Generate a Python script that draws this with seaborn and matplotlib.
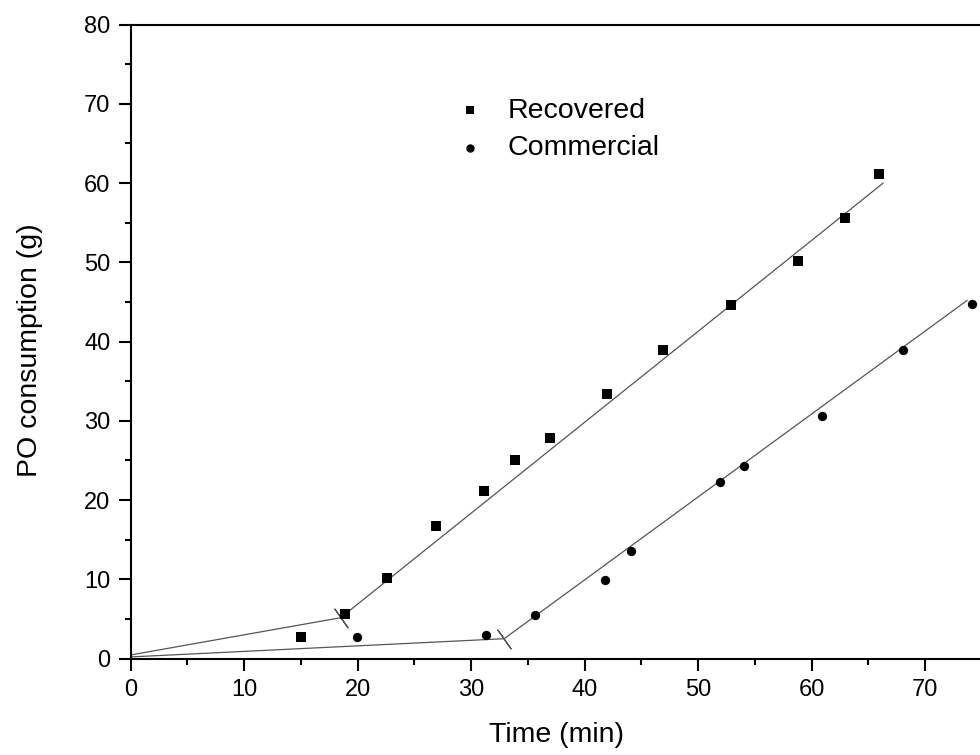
import numpy as np
import pandas as pd
import matplotlib
matplotlib.use("Agg")
import matplotlib.pyplot as plt
from matplotlib.ticker import MultipleLocator
import seaborn as sns

# data
rec_time = [15.0, 18.9, 22.6, 26.9, 31.1, 33.9, 36.9, 42.0, 46.9, 52.9, 58.8, 62.9, 65.9]
rec_po = [2.75, 5.6, 10.2, 16.7, 21.1, 25.1, 27.8, 33.4, 38.9, 44.6, 50.1, 55.6, 61.2]
com_time = [19.9, 31.3, 35.6, 41.8, 44.1, 51.9, 54.0, 60.9, 68.0, 74.1]
com_po = [2.75, 2.97, 5.5, 9.95, 13.6, 22.25, 24.3, 30.6, 38.9, 44.7]

# two-segment fit lines (start, break point, end)
rec_fit_time = [0.0, 18.5, 66.3]
rec_fit_po = [0.45, 5.15, 60.0]
com_fit_time = [0.0, 32.9, 73.7]
com_fit_po = [0.2, 2.5, 45.2]

rec = pd.DataFrame({"time": rec_time, "po": rec_po})
com = pd.DataFrame({"time": com_time, "po": com_po})
rec_fit = pd.DataFrame({"time": rec_fit_time, "po": rec_fit_po})
com_fit = pd.DataFrame({"time": com_fit_time, "po": com_fit_po})

sns.set_style("ticks")
plt.rcParams["font.family"] = ["Liberation Sans", "DejaVu Sans"]
plt.rcParams["text.color"] = "black"
plt.rcParams["axes.labelcolor"] = "black"
plt.rcParams["xtick.color"] = "black"
plt.rcParams["ytick.color"] = "black"

fig = plt.figure(figsize=(9.8, 7.55), dpi=100)
ax = fig.add_axes([0.1334, 0.1278, 0.8686, 0.8397])

line_kw = dict(color="#555555", linewidth=0.9, sort=False, estimator=None, legend=False)
sns.lineplot(data=rec_fit, x="time", y="po", ax=ax, **line_kw)
sns.lineplot(data=com_fit, x="time", y="po", ax=ax, **line_kw)

# short slanted marks at the break points
ax.plot([rec_fit_time[1]], [rec_fit_po[1]], linestyle="none", marker=(2, 2, 35),
        markersize=17, markeredgecolor="#555555", markeredgewidth=0.9)
ax.plot([com_fit_time[1]], [com_fit_po[1]], linestyle="none", marker=(2, 2, 35),
        markersize=17, markeredgecolor="#555555", markeredgewidth=0.9)

sns.scatterplot(data=rec, x="time", y="po", marker="s", s=45, color="black",
                edgecolor="black", linewidth=0, ax=ax, label="Recovered", zorder=3)
sns.scatterplot(data=com, x="time", y="po", marker="o", s=45, color="black",
                edgecolor="black", linewidth=0, ax=ax, label="Commercial", zorder=3)

ax.set_xlim(0, 75)
ax.set_ylim(0, 80)
ax.xaxis.set_major_locator(MultipleLocator(10))
ax.xaxis.set_minor_locator(MultipleLocator(5))
ax.yaxis.set_major_locator(MultipleLocator(10))
ax.yaxis.set_minor_locator(MultipleLocator(5))

for side in ["left", "bottom", "top", "right"]:
    ax.spines[side].set_linewidth(1.5)
    ax.spines[side].set_color("black")

ax.tick_params(which="major", direction="out", length=8.6, width=1.5, labelsize=17,
               color="black", labelcolor="black", pad=6)
ax.tick_params(which="minor", direction="out", length=4.3, width=1.5, color="black")
ax.tick_params(top=False, right=False, which="both")

ax.set_xlabel("Time (min)", fontsize=20.5, color="black")
ax.set_ylabel("PO consumption (g)", fontsize=20.5, color="black")
ax.xaxis.set_label_coords(0.5, -0.1)
ax.yaxis.set_label_coords(-0.103, 0.487)

leg = ax.legend(loc="upper left", bbox_to_anchor=(0.362, 0.907), frameon=False,
                fontsize=20.5, markerscale=0.9, handlelength=1.2,
                handletextpad=0.72, labelspacing=0.4, borderpad=0)
for txt in leg.get_texts():
    txt.set_color("black")

fig.savefig("out.png", dpi=100)
plt.close(fig)
